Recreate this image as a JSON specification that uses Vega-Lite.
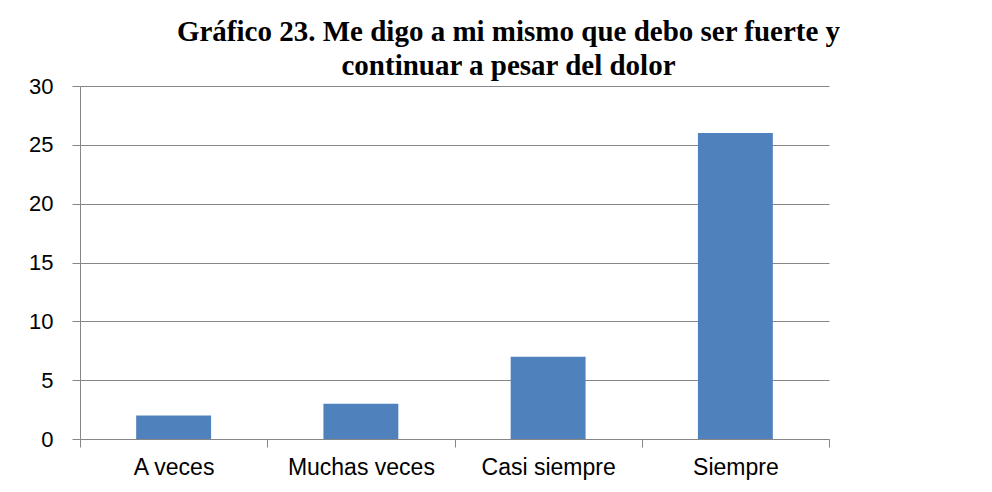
{
  "$schema": "https://vega.github.io/schema/vega-lite/v6.json",
  "width": 749,
  "height": 353,
  "autosize": {"type": "none"},
  "padding": {"left": 80, "top": 86, "right": 163, "bottom": 53},
  "background": "white",
  "title": {
    "text": ["Gráfico 23. Me digo a mi mismo que debo ser fuerte y", "continuar a pesar del dolor"],
    "font": "Liberation Serif",
    "fontSize": 29,
    "fontWeight": "bold",
    "color": "black",
    "anchor": "middle",
    "dx": 54,
    "offset": -6,
    "lineHeight": 34
  },
  "data": {
    "values": [
      {"categoria": "A veces", "valor": 2},
      {"categoria": "Muchas veces", "valor": 3},
      {"categoria": "Casi siempre", "valor": 7},
      {"categoria": "Siempre", "valor": 26}
    ]
  },
  "mark": {"type": "bar", "color": "#4F81BD", "width": {"band": 0.4}},
  "encoding": {
    "x": {
      "field": "categoria",
      "type": "nominal",
      "sort": null,
      "scale": {"paddingInner": 0, "paddingOuter": 0},
      "axis": {
        "title": null,
        "labelAngle": 0,
        "labelFont": "Liberation Sans",
        "labelFontSize": 23,
        "labelColor": "black",
        "labelPadding": 9,
        "domainColor": "#868686",
        "tickColor": "#868686",
        "tickSize": 8,
        "tickBand": "extent",
        "grid": false
      }
    },
    "y": {
      "field": "valor",
      "type": "quantitative",
      "scale": {"domain": [0, 30], "nice": false},
      "axis": {
        "title": null,
        "values": [0, 5, 10, 15, 20, 25, 30],
        "labelFont": "Liberation Sans",
        "labelFontSize": 22,
        "labelColor": "black",
        "labelPadding": 19,
        "domainColor": "#868686",
        "tickColor": "#868686",
        "tickSize": 8,
        "gridColor": "#868686",
        "gridOpacity": 1
      }
    }
  },
  "config": {"view": {"stroke": null}}
}
